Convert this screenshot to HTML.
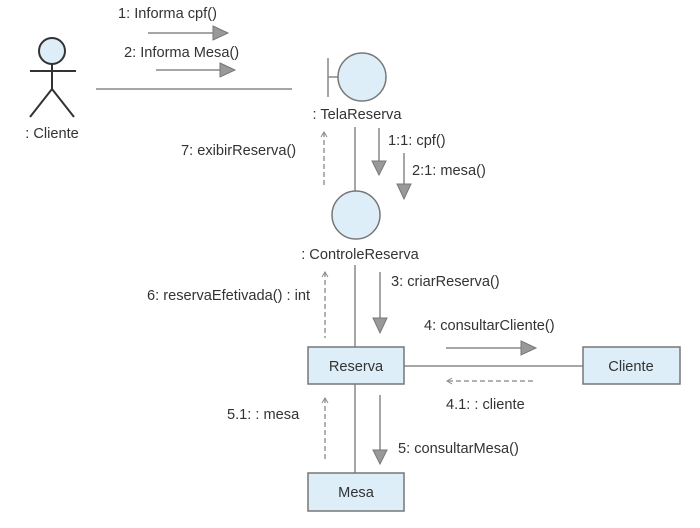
<!DOCTYPE html>
<html><head><style>body{margin:0;background:#fff}svg{display:block}text{font-family:"Liberation Sans",Arial,sans-serif;font-size:14.6px;fill:#333}</style></head><body>
<svg width="700" height="528" viewBox="0 0 700 528" xmlns="http://www.w3.org/2000/svg">
<g stroke="#888" stroke-width="1.5" fill="none">
<circle cx="52" cy="51" r="13" fill="#ddeef8" stroke="#333" stroke-width="2"/>
<g stroke="#333" stroke-width="2"><line x1="52" y1="64" x2="52" y2="89"/><line x1="30" y1="71" x2="76" y2="71"/><line x1="52" y1="89" x2="30" y2="117"/><line x1="52" y1="89" x2="74" y2="117"/></g>
<line x1="96" y1="89" x2="292" y2="89"/>
<line x1="148" y1="33" x2="213" y2="33"/>
<line x1="156" y1="70" x2="220" y2="70"/>
<line x1="328" y1="58" x2="328" y2="97"/><line x1="328" y1="77" x2="338" y2="77"/>
<circle cx="362" cy="77" r="24" fill="#ddeef8" stroke="#777"/>
<line x1="355" y1="127" x2="355" y2="191"/>
<polyline points="352,195 356,191 360,194" stroke-width="1"/>
<circle cx="356" cy="215" r="24" fill="#ddeef8" stroke="#777"/>
<line x1="379" y1="128" x2="379" y2="162"/>
<line x1="404" y1="153" x2="404" y2="186"/>
<g stroke="#999" stroke-width="1.5" stroke-dasharray="5,3">
<line x1="324" y1="132" x2="324" y2="188"/>
<line x1="325" y1="272" x2="325" y2="338"/>
<line x1="448" y1="381" x2="536" y2="381"/>
<line x1="325" y1="398" x2="325" y2="462"/>
</g>
<line x1="355" y1="265" x2="355" y2="347"/>
<line x1="380" y1="272" x2="380" y2="318"/>
<line x1="404" y1="366" x2="583" y2="366"/>
<line x1="446" y1="348" x2="522" y2="348"/>
<line x1="355" y1="384" x2="355" y2="473"/>
<line x1="380" y1="395" x2="380" y2="450"/>
<g stroke-width="1"><polyline points="321,137 324,132 327,137"/><polyline points="322,277 325,272 328,277"/><polyline points="322,403 325,398 328,403"/><polyline points="452,378 447,381 452,384"/></g>
<rect x="308" y="347" width="96" height="37" fill="#ddeef8" stroke="#777"/>
<rect x="583" y="347" width="97" height="37" fill="#ddeef8" stroke="#777"/>
<rect x="308" y="473" width="96" height="38" fill="#ddeef8" stroke="#777"/>
</g>
<g fill="#999" stroke="#777" stroke-width="1">
<polygon points="213,26 228,33 213,40"/>
<polygon points="220,63 235,70 220,77"/>
<polygon points="372,161 386,161 379,175"/>
<polygon points="397,184 411,184 404,199"/>
<polygon points="373,318 387,318 380,333"/>
<polygon points="521,341 536,348 521,355"/>
<polygon points="373,450 387,450 380,464"/>
</g>
<text x="118" y="18">1: Informa cpf()</text>
<text x="124" y="57">2: Informa Mesa()</text>
<text x="52" y="138" text-anchor="middle">: Cliente</text>
<text x="357" y="119" text-anchor="middle">: TelaReserva</text>
<text x="388" y="145">1:1: cpf()</text>
<text x="412" y="175">2:1: mesa()</text>
<text x="181" y="155">7: exibirReserva()</text>
<text x="360" y="259" text-anchor="middle">: ControleReserva</text>
<text x="391" y="286">3: criarReserva()</text>
<text x="147" y="300">6: reservaEfetivada() : int</text>
<text x="424" y="330">4: consultarCliente()</text>
<text x="356" y="371" text-anchor="middle" font-size="15.5">Reserva</text>
<text x="631" y="371" text-anchor="middle" font-size="15.5">Cliente</text>
<text x="446" y="409">4.1: : cliente</text>
<text x="227" y="419">5.1: : mesa</text>
<text x="398" y="453">5: consultarMesa()</text>
<text x="356" y="497" text-anchor="middle" font-size="15.5">Mesa</text>
</svg>
</body></html>
